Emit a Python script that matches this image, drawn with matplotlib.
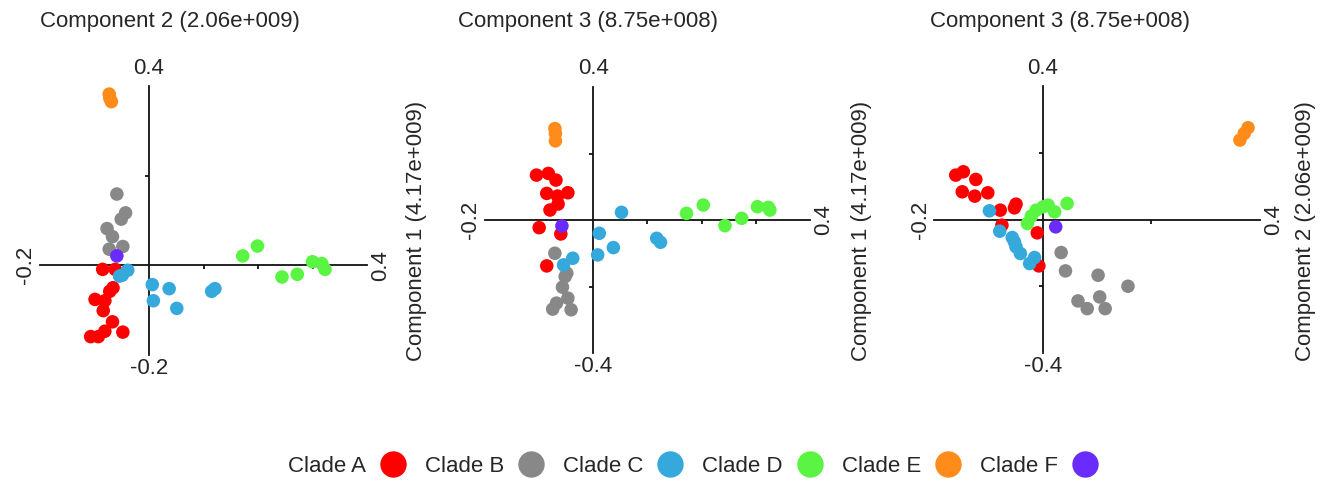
import matplotlib
matplotlib.use("Agg")
import matplotlib.pyplot as plt
from matplotlib.lines import Line2D

plt.rcParams["font.family"] = ["Liberation Sans", "DejaVu Sans"]

clades = ["Clade A", "Clade B", "Clade C", "Clade D", "Clade E", "Clade F"]
colors = ["#ff0000", "#888888", "#36a9dc", "#5af542", "#ff8c1a", "#6a2bff"]

# Component 1 (x) vs Component 2 (y)
p1_x = {
    "Clade A": [-0.085, -0.062, -0.066, -0.072, -0.099, -0.081, -0.084, -0.067, -0.081, -0.048, -0.107, -0.093],
    "Clade B": [-0.059, -0.043, -0.051, -0.077, -0.067, -0.073, -0.048],
    "Clade C": [-0.049, -0.039, -0.054, 0.006, 0.037, 0.008, 0.051, 0.115, 0.121],
    "Clade D": [0.172, 0.199, 0.244, 0.272, 0.300, 0.317, 0.323],
    "Clade E": [-0.073, -0.072, -0.069],
    "Clade F": [-0.059],
}
p1_y = {
    "Clade A": [-0.009, -0.009, -0.050, -0.058, -0.076, -0.079, -0.101, -0.126, -0.147, -0.149, -0.159, -0.159],
    "Clade B": [0.159, 0.117, 0.103, 0.082, 0.064, 0.036, 0.042],
    "Clade C": [-0.022, -0.011, -0.024, -0.043, -0.052, -0.079, -0.096, -0.058, -0.052],
    "Clade D": [0.021, 0.043, -0.026, -0.020, 0.008, 0.004, -0.009],
    "Clade E": [0.382, 0.373, 0.365],
    "Clade F": [0.021],
}

# Component 1 (x) vs Component 3 (y)
p2_x = {
    "Clade A": [-0.105, -0.083, -0.069, -0.086, -0.066, -0.047, -0.065, -0.080, -0.100, -0.060, -0.086],
    "Clade B": [-0.071, -0.049, -0.052, -0.057, -0.047, -0.068, -0.075, -0.041],
    "Clade C": [0.052, 0.011, 0.037, 0.008, -0.038, -0.055, 0.117, 0.124],
    "Clade D": [0.172, 0.203, 0.243, 0.274, 0.303, 0.323, 0.326],
    "Clade E": [-0.071, -0.070, -0.070],
    "Clade F": [-0.058],
}
p2_y = {
    "Clade A": [0.135, 0.140, 0.120, 0.080, 0.072, 0.082, 0.048, 0.030, -0.023, -0.042, -0.138],
    "Clade B": [-0.100, -0.160, -0.170, -0.202, -0.235, -0.250, -0.268, -0.270],
    "Clade C": [0.023, -0.040, -0.083, -0.105, -0.115, -0.135, -0.055, -0.067],
    "Clade D": [0.020, 0.045, -0.017, 0.005, 0.040, 0.038, 0.030],
    "Clade E": [0.275, 0.260, 0.238],
    "Clade F": [-0.018],
}

# Component 2 (x) vs Component 3 (y)
p3_x = {
    "Clade A": [-0.160, -0.146, -0.123, -0.148, -0.125, -0.101, -0.078, -0.052, -0.049, -0.075, -0.010, -0.007],
    "Clade B": [0.034, 0.042, 0.102, 0.157, 0.105, 0.065, 0.082, 0.115],
    "Clade C": [-0.098, -0.079, -0.056, -0.052, -0.049, -0.041, -0.015, -0.024],
    "Clade D": [-0.028, -0.021, -0.012, 0.001, 0.010, 0.022, 0.045],
    "Clade E": [0.363, 0.371, 0.378],
    "Clade F": [0.024],
}
p3_y = {
    "Clade A": [0.133, 0.143, 0.120, 0.083, 0.070, 0.080, 0.028, 0.035, 0.046, -0.017, -0.040, -0.139],
    "Clade B": [-0.099, -0.154, -0.167, -0.200, -0.232, -0.244, -0.267, -0.267],
    "Clade C": [0.026, -0.035, -0.054, -0.067, -0.082, -0.102, -0.114, -0.132],
    "Clade D": [-0.012, 0.010, 0.028, 0.038, 0.043, 0.023, 0.048],
    "Clade E": [0.238, 0.258, 0.275],
    "Clade F": [-0.022],
}

panels = [
    dict(xs=p1_x, ys=p1_y, xlim=(-0.2, 0.4), ylim=(-0.2, 0.4), xticks=[0.1, 0.2, 0.3], yticks=[0.2],
         top="Component 2 (2.06e+009)", side="Component 1 (4.17e+009)",
         rect=[40, 86, 327, 269], title_x=40, side_x=417),
    dict(xs=p2_x, ys=p2_y, xlim=(-0.2, 0.4), ylim=(-0.4, 0.4), xticks=[0.1, 0.2, 0.3], yticks=[0.2, -0.2],
         top="Component 3 (8.75e+008)", side="Component 1 (4.17e+009)",
         rect=[485, 87, 325, 266], title_x=458, side_x=862),
    dict(xs=p3_x, ys=p3_y, xlim=(-0.2, 0.4), ylim=(-0.4, 0.4), xticks=[0.2], yticks=[0.2, -0.2],
         top="Component 3 (8.75e+008)", side="Component 2 (2.06e+009)",
         rect=[934, 86, 326, 267], title_x=930, side_x=1306),
]

W, H = 1322, 482
txt = "#262626"
fig = plt.figure(figsize=(W / 100, H / 100), dpi=100)

for p in panels:
    l, t, w, h = p["rect"]
    ax = fig.add_axes([l / W, 1 - (t + h) / H, w / W, h / H])
    for name, c in zip(clades, colors):
        ax.scatter(p["xs"][name], p["ys"][name], s=95, color=c, edgecolors="none", zorder=3)
    ax.set_xlim(*p["xlim"])
    ax.set_ylim(*p["ylim"])
    for s in ["top", "right"]:
        ax.spines[s].set_visible(False)
    ax.spines["left"].set_position(("data", 0))
    ax.spines["bottom"].set_position(("data", 0))
    for s in ["left", "bottom"]:
        ax.spines[s].set_linewidth(1.3)
        ax.spines[s].set_color("#111111")
    ax.set_xticks(p["xticks"])
    ax.set_yticks(p["yticks"])
    ax.tick_params(direction="out", length=3, width=1.3, labelbottom=False, labelleft=False,
                   colors="#111111")
    ax.patch.set_alpha(0)

    x0, x1 = p["xlim"]
    y0, y1 = p["ylim"]
    fmt = lambda v: f"{v:.1f}"
    kw = dict(textcoords="offset pixels", fontsize=16, color=txt, ha="center", va="center")
    ax.annotate(fmt(y1), (0, y1), xytext=(0, 18), **kw)
    ax.annotate(fmt(y0), (0, y0), xytext=(0, -13), **kw)
    ax.annotate(fmt(x0), (x0, 0), xytext=(-14, 0), rotation=90, **kw)
    ax.annotate(fmt(x1), (x1, 0), xytext=(14, 0), rotation=90, **kw)

    fig.text(p["title_x"] / W, 1 - 22 / H, p["top"], fontsize=16, color=txt, ha="left", va="center")
    fig.text(p["side_x"] / W, 1 - 231 / H, p["side"], fontsize=16, color=txt, rotation=90,
             ha="center", va="center")

handles = [Line2D([], [], marker="o", linestyle="none", markersize=19, markerfacecolor=c,
                  markeredgecolor="none") for c in colors]
fig.legend(handles, clades, loc="center", bbox_to_anchor=(693 / W, 1 - 466 / H), ncol=6,
           frameon=False, markerfirst=False, fontsize=16, handletextpad=0.6, columnspacing=0.85,
           handlelength=1.2, labelcolor=txt)

fig.savefig("out.png", dpi=100)
